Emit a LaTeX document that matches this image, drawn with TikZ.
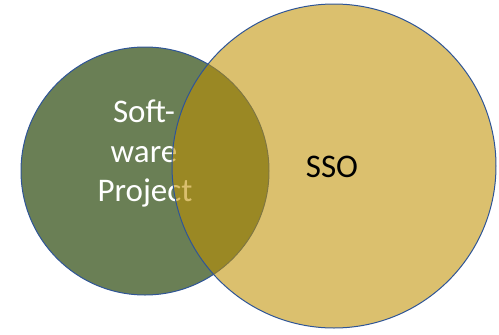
\documentclass[tikz,border=0pt]{standalone}
\usepackage{fontspec}
\setmainfont{Carlito}
\definecolor{pgreen}{RGB}{106,127,85}
\definecolor{pgold}{RGB}{191,144,0}
\definecolor{pline}{RGB}{47,85,151}
\tikzset{
  setcircle/.style={circle, draw=pline, line width=1pt, inner sep=0pt},
  biglabel/.style={anchor=base, inner sep=0pt, font=\fontsize{33}{40}\selectfont}
}
\begin{document}
\begin{tikzpicture}[x=1pt,y=-1pt]
\useasboundingbox (0,0) rectangle (499,335);
\node[setcircle, fill=pgreen, minimum size=248pt] (sw) at (145,171) {};
\node[biglabel, text=white] (l1) at (144,122) {Soft-};
\node[biglabel, text=white] (l2) at (144,162) {ware};
\node[biglabel, text=white] (l3) at (145,201.5) {Project};
\node[setcircle, fill=pgold, fill opacity=0.57, minimum size=324pt] (sso) at (334,166) {};
\node[biglabel, text=black] (ssot) at (332,177) {SSO};
\end{tikzpicture}
\end{document}
